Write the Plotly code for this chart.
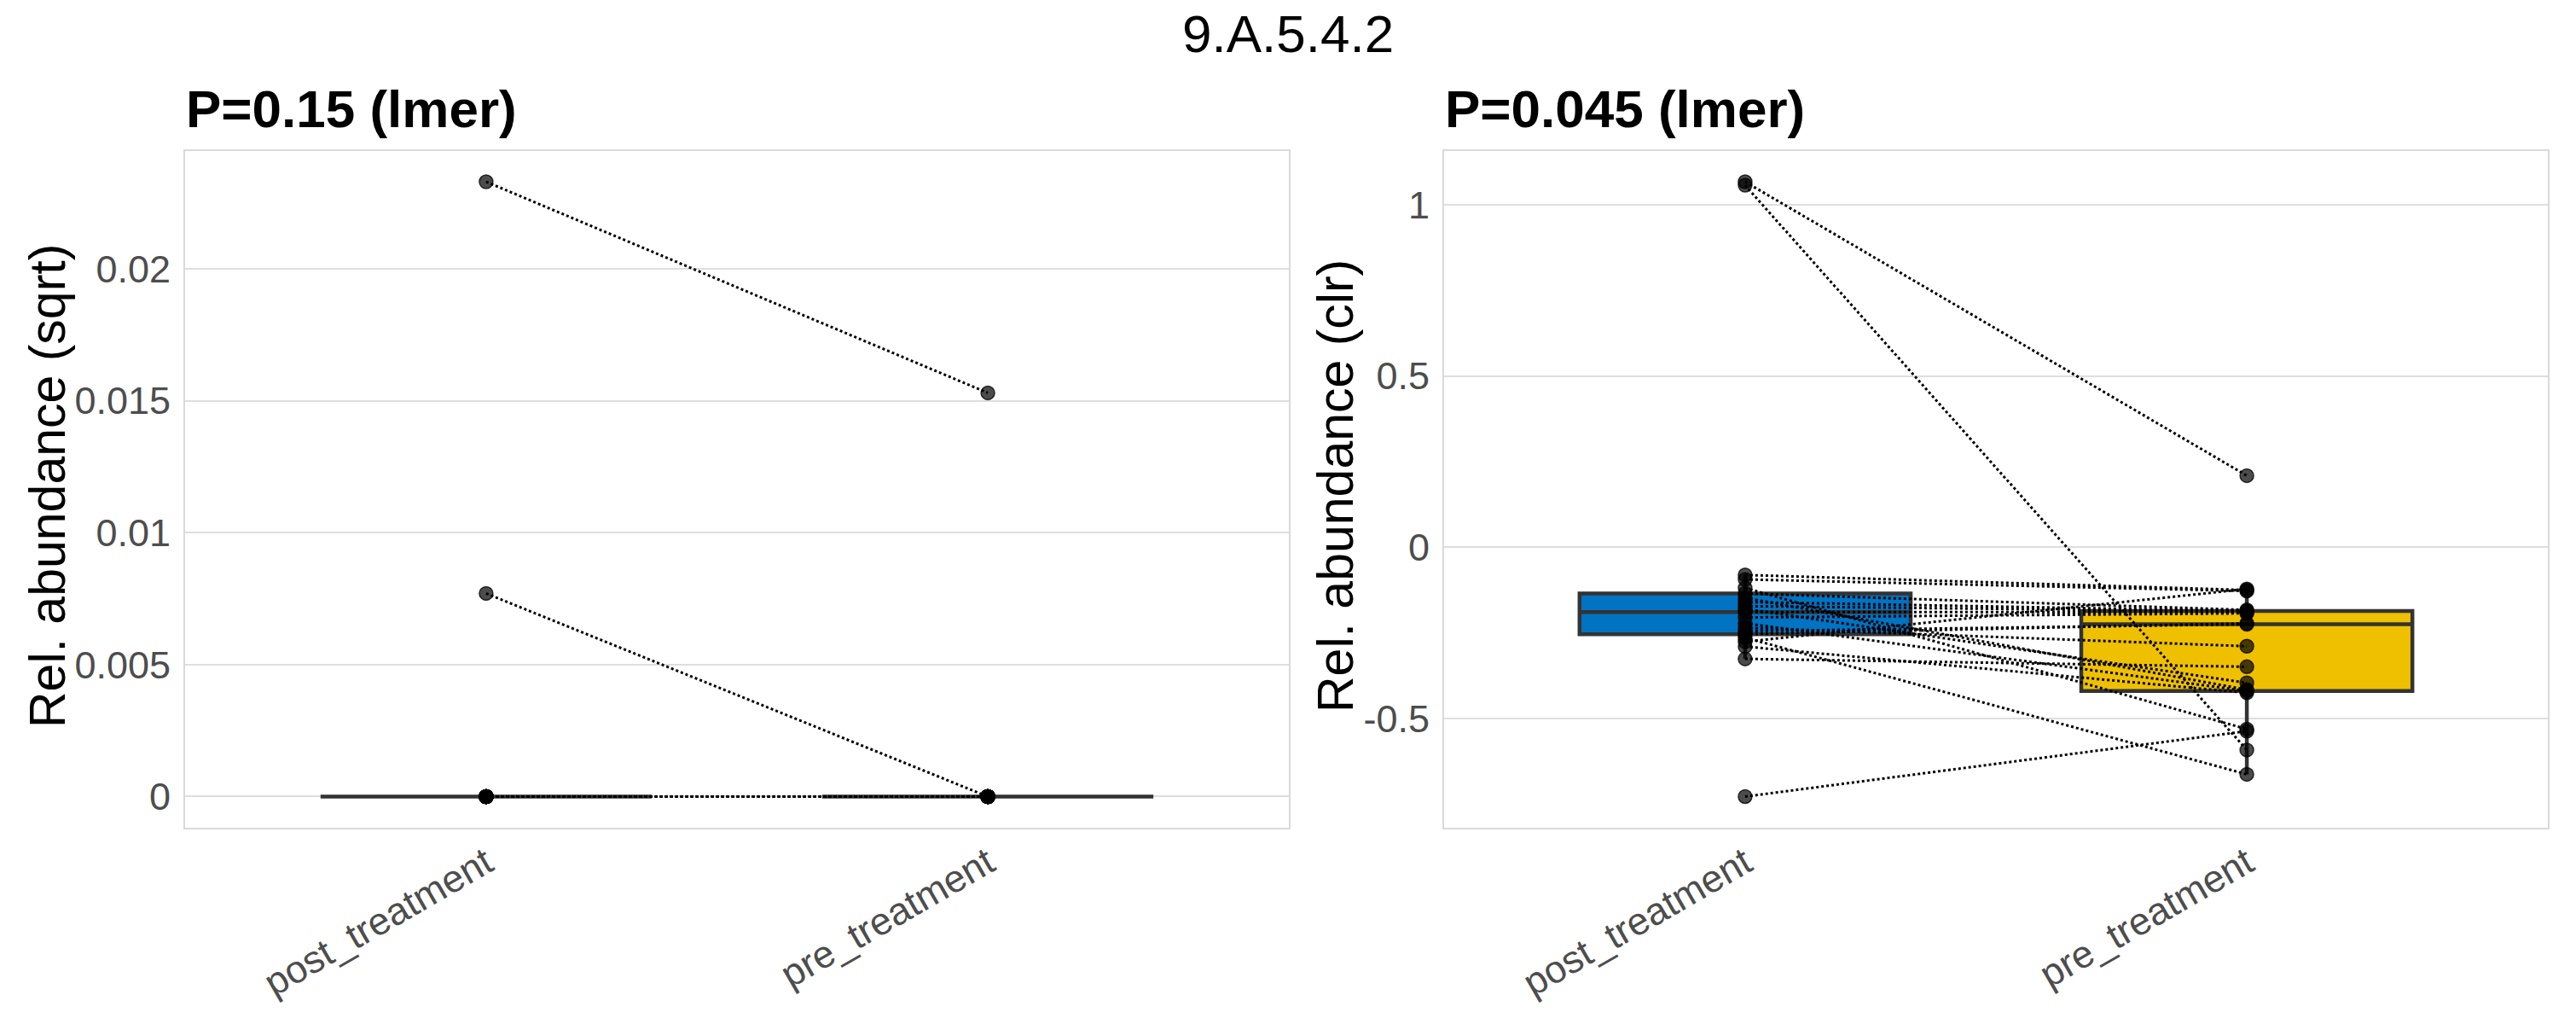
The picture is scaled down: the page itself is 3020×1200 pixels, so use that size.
import plotly.graph_objects as go

# ---------------- data ----------------
groups = ["post_treatment", "pre_treatment"]

# left panel: relative abundance (sqrt), paired subjects (same index = same subject)
sqrt_post = [0.0233, 0.0077, 0.0, 0.0, 0.0, 0.0, 0.0, 0.0, 0.0, 0.0, 0.0,
             0.0, 0.0, 0.0, 0.0, 0.0, 0.0, 0.0, 0.0, 0.0, 0.0]
sqrt_pre = [0.0153, 0.0, 0.0, 0.0, 0.0, 0.0, 0.0, 0.0, 0.0, 0.0, 0.0,
            0.0, 0.0, 0.0, 0.0, 0.0, 0.0, 0.0, 0.0, 0.0, 0.0]

# right panel: relative abundance (clr), paired subjects
clr_post = [1.067, 1.057, -0.728, -0.264, -0.119, -0.081, -0.094, -0.276, -0.135,
            -0.148, -0.160, -0.172, -0.180, -0.189, -0.205, -0.222, -0.235,
            -0.245, -0.254, -0.290, -0.326]
clr_pre = [0.209, -0.592, -0.537, -0.663, -0.531, -0.125, -0.128, -0.122, -0.183,
           -0.416, -0.186, -0.188, -0.396, -0.190, -0.193, -0.420, -0.289,
           -0.225, -0.222, -0.425, -0.349]

main_title = "9.A.5.4.2"
panel_titles = ["P=0.15 (lmer)", "P=0.045 (lmer)"]
y_titles = ["Rel. abundance (sqrt)", "Rel. abundance (clr)"]

left_tickvals = [0, 0.005, 0.01, 0.015, 0.02]
left_ticktext = ["0", "0.005", "0.01", "0.015", "0.02"]
right_tickvals = [-0.5, 0, 0.5, 1]
right_ticktext = ["-0.5", "0", "0.5", "1"]

box_colors = ["#0073C2", "#EFC000"]

# ---------------- figure ----------------
W, H = 3020, 1200
FONT = "Liberation Sans, Arial, Helvetica, sans-serif"
fig = go.Figure()

panels = [
    (sqrt_post, sqrt_pre, "x", "y"),
    (clr_post, clr_pre, "x2", "y2"),
]

for post, pre, xa, ya in panels:
    for g, vals, col in zip(groups, [post, pre], box_colors):
        fig.add_trace(go.Box(
            x=[g] * len(vals), y=vals, xaxis=xa, yaxis=ya,
            fillcolor=col, line=dict(color="#333333", width=4.5),
            boxpoints="outliers", marker=dict(opacity=0, size=1),
            quartilemethod="inclusive", width=0.66, whiskerwidth=0,
            showlegend=False, hoverinfo="skip",
        ))
    # points
    fig.add_trace(go.Scatter(
        x=[groups[0]] * len(post) + [groups[1]] * len(pre), y=post + pre,
        xaxis=xa, yaxis=ya, mode="markers",
        marker=dict(size=16, color="rgba(0,0,0,0.7)",
                    line=dict(color="rgba(0,0,0,0.75)", width=1.5)),
        showlegend=False, hoverinfo="skip",
    ))
    # paired lines
    lx, ly = [], []
    for a, b in zip(post, pre):
        lx += [groups[0], groups[1], None]
        ly += [a, b, None]
    fig.add_trace(go.Scatter(
        x=lx, y=ly, xaxis=xa, yaxis=ya, mode="lines",
        line=dict(color="black", width=3, dash="dot"),
        connectgaps=False, showlegend=False, hoverinfo="skip",
    ))


def yrange(*series):
    vals = [v for s in series for v in s]
    lo, hi = min(vals), max(vals)
    pad = 0.05 * (hi - lo)
    return [lo - pad, hi + pad]


ydom = [1 - 969.5 / H, 1 - 177 / H]
xdom1 = [217 / W, 1511 / W]
xdom2 = [1693 / W, 2987 / W]

common_x = dict(
    type="category", categoryorder="array", categoryarray=groups,
    range=[-0.6, 1.6], showgrid=False, zeroline=False,
    showline=True, mirror=True, linecolor="#D9D9D9", linewidth=2,
    ticks="", tickangle=-30, ticklabelstandoff=-4,
    tickfont=dict(family=FONT, size=45, color="#4D4D4D"),
)
common_y = dict(
    showgrid=True, gridcolor="#DEDEDE", gridwidth=2, zeroline=False,
    showline=True, mirror=True, linecolor="#D9D9D9", linewidth=2,
    ticks="", ticklabelstandoff=6,
    tickfont=dict(family=FONT, size=45, color="#4D4D4D"),
)

fig.update_layout(
    width=W, height=H,
    margin=dict(l=0, r=0, t=0, b=0, autoexpand=False),
    paper_bgcolor="white", plot_bgcolor="white",
    boxmode="overlay",
    xaxis=dict(domain=xdom1, anchor="y", **common_x),
    xaxis2=dict(domain=xdom2, anchor="y2", **common_x),
    yaxis=dict(domain=ydom, anchor="x", range=yrange(sqrt_post, sqrt_pre),
               tickvals=left_tickvals, ticktext=left_ticktext, **common_y),
    yaxis2=dict(domain=ydom, anchor="x2", range=yrange(clr_post, clr_pre),
                tickvals=right_tickvals, ticktext=right_ticktext, **common_y),
)

annotations = [
    dict(text=main_title, x=0.5, y=1 - 40 / H, xref="paper", yref="paper",
         xanchor="center", yanchor="middle", showarrow=False,
         font=dict(family=FONT, size=62, color="black")),
    dict(text="<b>" + panel_titles[0] + "</b>", x=216 / W, y=1 - 127 / H,
         xref="paper", yref="paper", xanchor="left", yanchor="middle",
         showarrow=False, font=dict(family=FONT, size=62, color="black")),
    dict(text="<b>" + panel_titles[1] + "</b>", x=1692 / W, y=1 - 127 / H,
         xref="paper", yref="paper", xanchor="left", yanchor="middle",
         showarrow=False, font=dict(family=FONT, size=62, color="black")),
    dict(text=y_titles[0], x=56 / W, y=1 - 570 / H, xref="paper", yref="paper",
         xanchor="center", yanchor="middle", textangle=-90, showarrow=False,
         font=dict(family=FONT, size=59, color="black")),
    dict(text=y_titles[1], x=1566 / W, y=1 - 570 / H, xref="paper", yref="paper",
         xanchor="center", yanchor="middle", textangle=-90, showarrow=False,
         font=dict(family=FONT, size=59, color="black")),
]
fig.update_layout(annotations=annotations)

fig.write_html("out.html",
               config={"displayModeBar": False},
               post_script="document.body.style.margin='0px';"
                           "document.body.style.overflow='hidden';")
